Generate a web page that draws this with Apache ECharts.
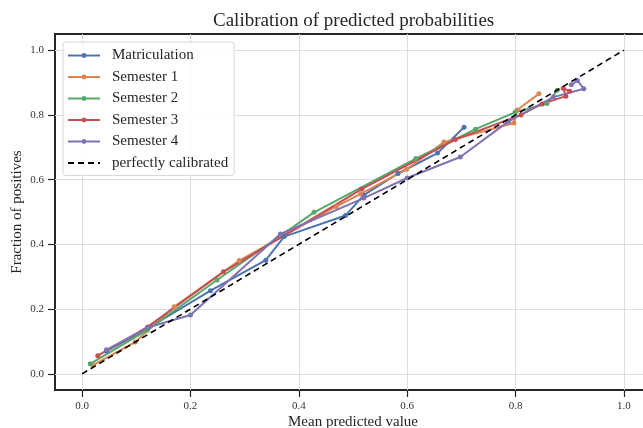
<!DOCTYPE html>
<html>
<head>
    <meta charset="utf-8">
    <title>Calibration of predicted probabilities</title>
    <script src="https://cdn.jsdelivr.net/npm/echarts@6/dist/echarts.min.js"></script>
    <style>
        html, body { margin: 0; padding: 0; background: #fff; }
    </style>
</head>
<body>
    <div id="main" style="width: 643px;height:428px;"></div>
    <script type="text/javascript">
        // values: [mean predicted value, fraction of positives]
        var matriculation = [[0.045, 0.07], [0.121, 0.14], [0.237, 0.257], [0.339, 0.351], [0.373, 0.424],
            [0.486, 0.489], [0.520, 0.552], [0.583, 0.619], [0.656, 0.682], [0.705, 0.762]];
        var semester1 = [[0.020, 0.027], [0.098, 0.098], [0.170, 0.207], [0.290, 0.350], [0.469, 0.517],
            [0.514, 0.556], [0.599, 0.632], [0.668, 0.716], [0.797, 0.775], [0.803, 0.815], [0.843, 0.865]];
        var semester2 = [[0.015, 0.031], [0.120, 0.135], [0.249, 0.290], [0.428, 0.499], [0.616, 0.665],
            [0.726, 0.756], [0.799, 0.808], [0.858, 0.835], [0.877, 0.876]];
        var semester3 = [[0.029, 0.056], [0.121, 0.145], [0.261, 0.315], [0.516, 0.571], [0.689, 0.724],
            [0.810, 0.800], [0.849, 0.834], [0.893, 0.858], [0.888, 0.882], [0.900, 0.873]];
        var semester4 = [[0.045, 0.074], [0.121, 0.143], [0.200, 0.182], [0.366, 0.432], [0.520, 0.543],
            [0.600, 0.605], [0.698, 0.670], [0.787, 0.780], [0.870, 0.855], [0.926, 0.881], [0.914, 0.906], [0.903, 0.893]];
        var perfect = [[0, 0], [1, 1]];

        var seriesNames = ['Matriculation', 'Semester 1', 'Semester 2', 'Semester 3', 'Semester 4'];
        var seriesData = [matriculation, semester1, semester2, semester3, semester4];
        var colors = ['#4C72B0', '#DD8452', '#55A868', '#C44E52', '#8172B3'];
        var tickValues = [0, 0.2, 0.4, 0.6, 0.8, 1.0];

        var serif = '"Liberation Serif", "DejaVu Serif", serif';
        var myChart = echarts.init(document.getElementById('main'));

        var series = seriesNames.map(function (name, i) {
            return {
                name: name,
                type: 'line',
                data: seriesData[i],
                color: colors[i],
                symbol: 'circle',
                symbolSize: 5,
                showSymbol: true,
                lineStyle: { width: 2 },
                animation: false
            };
        });
        series.push({
            name: 'perfectly calibrated',
            type: 'line',
            data: perfect,
            color: '#000',
            symbol: 'none',
            lineStyle: { width: 1.6, type: [6, 4], color: '#000' },
            z: 5,
            animation: false
        });

        var legendData = seriesNames.map(function (n) { return { name: n }; });
        legendData.push({ name: 'perfectly calibrated', itemStyle: { opacity: 0 } });

        function axisOf(name, gap, rotate) {
            return {
                type: 'value',
                min: -0.05,
                max: 1.05,
                name: name,
                nameLocation: 'middle',
                nameGap: gap,
                nameRotate: rotate,
                nameMoveOverlap: false,
                nameTextStyle: { fontFamily: serif, fontSize: 15, color: '#262626' },
                axisLine: { show: false, onZero: false },
                axisTick: { show: true, customValues: tickValues, length: 7, lineStyle: { color: '#262626', width: 1.2 } },
                axisLabel: {
                    customValues: tickValues,
                    fontFamily: serif, fontSize: 11, color: '#333',
                    margin: 11,
                    formatter: function (v) { return v.toFixed(1); }
                },
                splitLine: { show: true, lineStyle: { color: '#dddddd', width: 1 } }
            };
        }

        option = {
            backgroundColor: '#fff',
            title: {
                text: 'Calibration of predicted probabilities',
                left: 208,
                top: 7,
                textStyle: { fontFamily: serif, fontSize: 19, fontWeight: 'normal', color: '#262626' }
            },
            legend: {
                orient: 'vertical',
                left: 63,
                top: 42,
                data: legendData,
                itemWidth: 32,
                itemHeight: 6,
                itemGap: 6.5,
                padding: [6, 6, 5, 4],
                backgroundColor: 'rgba(255,255,255,0.85)',
                borderColor: '#d8d8d8',
                borderWidth: 1,
                borderRadius: 3,
                textStyle: { fontFamily: serif, fontSize: 15, color: '#262626', padding: [0, 0, 0, 7] }
            },
            grid: {
                left: 55,
                top: 34,
                width: 596,
                bottom: 38,
                containLabel: false,
                outerBoundsMode: 'none',
                show: true,
                borderColor: '#262626',
                borderWidth: 2
            },
            xAxis: axisOf('Mean predicted value', 25, 0),
            yAxis: axisOf('Fraction of positives', 30, 90),
            series: series
        };

        myChart.setOption(option);
    </script>
</body>
</html>
